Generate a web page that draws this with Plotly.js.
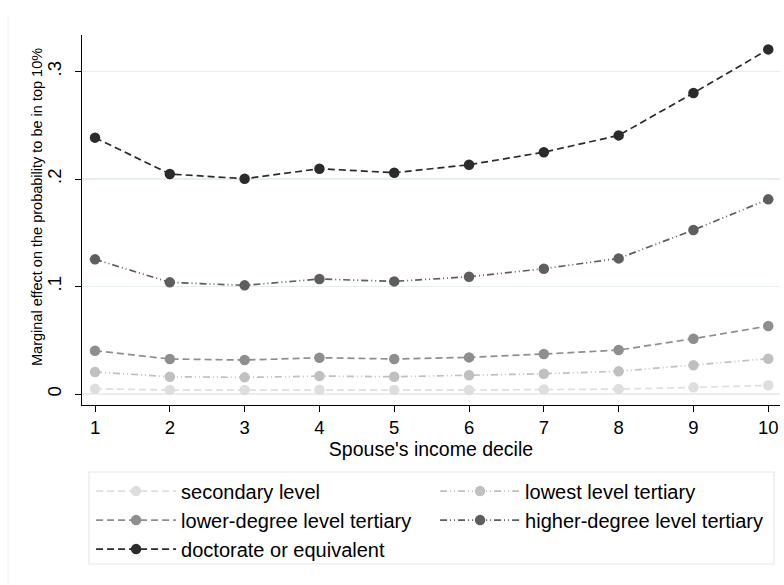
<!DOCTYPE html>
<html>
<head>
<meta charset="utf-8">
<script src="https://cdn.plot.ly/plotly-3.0.1.min.js"></script>
<style>html,body{margin:0;padding:0;background:#fff;}</style>
</head>
<body>
<div id="chart" style="width:784px;height:585px;"></div>
<script>
const deciles = [1,2,3,4,5,6,7,8,9,10];
const secondary = [0.0049,0.0037,0.0037,0.0040,0.0037,0.0037,0.0043,0.0046,0.0062,0.0081];
const lowestTertiary = [0.0205,0.0161,0.0155,0.0167,0.0161,0.0174,0.0189,0.0211,0.0267,0.0329];
const lowerDegree = [0.0403,0.0326,0.0316,0.0338,0.0326,0.0341,0.0372,0.0409,0.0515,0.0633];
const higherDegree = [0.1253,0.1039,0.1011,0.1070,0.1048,0.1091,0.1166,0.1262,0.1526,0.1811];
const doctorate = [0.2385,0.2047,0.2003,0.2096,0.2059,0.2133,0.2250,0.2406,0.2800,0.3206];
const seriesNames = ["secondary level","lowest level tertiary","lower-degree level tertiary","higher-degree level tertiary","doctorate or equivalent"];
const yTickVals = [0,0.1,0.2,0.3];
const yTickText = ["0",".1",".2",".3"];
const yTitle = "Marginal effect on the probability to be in top 10%";

const seriesData = [secondary, lowestTertiary, lowerDegree, higherDegree, doctorate];
const colors = ["#dedede","#c0c0c0","#8e8e8e","#5e5e5e","#2b2b2b"];
const dashes = ["7px,4px","7px,3px,1px,3px,1px,3px","7px,4px","7px,3px,1px,3px,1px,3px","7px,4px"];

const traces = seriesData.map((ys, i) => ({
  x: deciles, y: ys, name: seriesNames[i],
  type: "scatter", mode: "lines+markers",
  line: {color: colors[i], width: 1.7, dash: dashes[i]},
  marker: {color: colors[i], size: 10.5}
}));

const layout = {
  width: 784, height: 585,
  margin: {l: 82, r: 4, t: 35, b: 180},
  paper_bgcolor: "#ffffff", plot_bgcolor: "#ffffff",
  font: {family: "Liberation Sans, Arial, sans-serif", color: "#000"},
  showlegend: true,
  xaxis: {
    range: [0.826, 10.157], tickvals: deciles, ticktext: deciles.map(String),
    showgrid: false, zeroline: false, showline: true, linecolor: "#000", linewidth: 1.2,
    ticks: "outside", ticklen: 6, tickcolor: "#000", tickfont: {size: 18.5},
    title: {text: "Spouse's income decile", font: {size: 19.5}, standoff: 4}
  },
  yaxis: {
    range: [-0.0102, 0.334], tickvals: yTickVals, ticktext: yTickText, tickangle: -90,
    showgrid: true, gridcolor: "#e6eef0", gridwidth: 1.2, zeroline: false,
    showline: true, linecolor: "#000", linewidth: 1.2,
    ticks: "outside", ticklen: 6, tickcolor: "#000", tickfont: {size: 18.5},
    ticklabelstandoff: 6
  },
  annotations: [
    {text: yTitle, xref: "paper", yref: "paper", x: (37-82)/698, y: (405-207)/370,
     xanchor: "center", yanchor: "middle", textangle: -90, showarrow: false,
     font: {size: 14.5, color: "#000"}}
  ],
  legend: {
    orientation: "h", x: 0.013, xanchor: "left", y: -0.18, yanchor: "top",
    entrywidth: 249, entrywidthmode: "pixels", itemwidth: 80,
    font: {size: 20}, bgcolor: "rgba(0,0,0,0)", borderwidth: 0, traceorder: "normal"
  },
  shapes: [
    {type: "rect", xref: "paper", yref: "paper", x0: (89-82)/698, x1: (774-82)/698,
     y0: (405-564)/370, y1: (405-472)/370, line: {color: "#e3eaec", width: 1.2}},
    {type: "line", xref: "paper", yref: "paper", x0: (8-82)/698, x1: (8-82)/698,
     y0: (405-585)/370, y1: (405-15)/370, line: {color: "#eef3f4", width: 1}}
  ]
};

Plotly.newPlot("chart", traces, layout, {displayModeBar: false, staticPlot: true});
</script>
</body>
</html>
